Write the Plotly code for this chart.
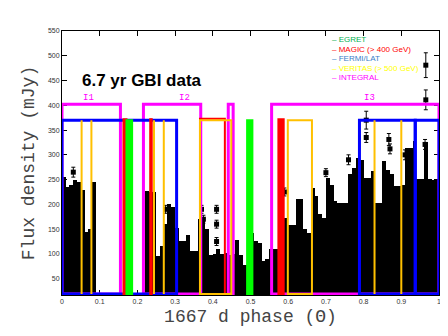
import plotly.graph_objects as go

# GBI flux envelope, phase bins of 0.01
phase_bins = [0.00, 0.01, 0.02, 0.03, 0.04, 0.05, 0.06, 0.07, 0.08, 0.09,
              0.10, 0.11, 0.12, 0.13, 0.14, 0.15, 0.16, 0.17, 0.18, 0.19,
              0.20, 0.21, 0.22, 0.23, 0.24, 0.25, 0.26, 0.27, 0.28, 0.29,
              0.30, 0.31, 0.32, 0.33, 0.34, 0.35, 0.36, 0.37, 0.38, 0.39,
              0.40, 0.41, 0.42, 0.43, 0.44, 0.45, 0.46, 0.47, 0.48, 0.49,
              0.50, 0.51, 0.52, 0.53, 0.54, 0.55, 0.56, 0.57, 0.58, 0.59,
              0.60, 0.61, 0.62, 0.63, 0.64, 0.65, 0.66, 0.67, 0.68, 0.69,
              0.70, 0.71, 0.72, 0.73, 0.74, 0.75, 0.76, 0.77, 0.78, 0.79,
              0.80, 0.81, 0.82, 0.83, 0.84, 0.85, 0.86, 0.87, 0.88, 0.89,
              0.90, 0.91, 0.92, 0.93, 0.94, 0.95, 0.96, 0.97, 0.98, 0.99]
flux_top = [255, 235, 240, 250, 245, 230, 145, 150, 245, 0,
            0, 0, 0, 0, 0, 0, 0, 0, 0, 0,
            0, 0, 227, 225, 225, 95, 115, 160, 200, 195,
            152, 126, 126, 139, 106, 106, 170, 175, 150, 98,
            100, 110, 100, 102, 98, 100, 129, 98, 78, 88,
            142, 126, 122, 85, 90, 109, 109, 109, 140, 172,
            159, 159, 210, 210, 150, 142, 233, 217, 180, 172,
            254, 240, 207, 203, 203, 203, 261, 274, 294, 290,
            254, 254, 268, 203, 203, 288, 270, 261, 237, 237,
            240, 314, 314, 328, 252, 252, 325, 252, 250, 252]

# individual points with error bars sticking out of the envelope
pt_phase = [0.03, 0.275, 0.37, 0.375, 0.41, 0.41, 0.41, 0.59, 0.70, 0.76,
            0.807, 0.807, 0.867, 0.87, 0.91, 0.963, 0.965, 0.965]
pt_flux = [265, 190, 190, 170, 190, 160, 125, 225, 264, 290,
           370, 335, 331, 312, 300, 321, 481, 411]
pt_err = [10, 8, 8, 8, 8, 8, 8, 8, 8, 10,
          18, 10, 12, 10, 10, 10, 25, 20]

# phase windows of the observatories: (start, end, top)
integral_win = [(0.0, 0.155, 402), (0.216, 0.368, 402), (0.441, 0.454, 402), (0.556, 1.0, 402)]
fermi_win = [(0.0, 0.304, 370), (0.789, 0.937, 370), (0.937, 1.0, 370)]
magic_win = [(0.163, 0.171, 372), (0.234, 0.238, 372), (0.366, 0.432, 373), (0.574, 0.588, 372)]
veritas_win = [(0.052, 0.052, 370), (0.078, 0.078, 370), (0.244, 0.244, 370), (0.27, 0.27, 370),
               (0.366, 0.449, 370), (0.599, 0.663, 370), (0.829, 0.829, 370), (0.90, 0.90, 370)]
egret_win = [(0.171, 0.186, 370), (0.491, 0.505, 370)]

legend_names = ['– EGRET', '– MAGIC (> 400 GeV)', '– FERMI/LAT', '– VERITAS (> 500 GeV)', '– INTEGRAL']
legend_colors = ['#00b050', '#ff0000', '#3c7fc8', '#ffff00', '#ff00ff']

x_ticks = [0, 0.1, 0.2, 0.3, 0.4, 0.5, 0.6, 0.7, 0.8, 0.9, 1]
y_ticks = [50, 100, 150, 200, 250, 300, 350, 400, 450, 500, 550]

BOTTOM = 19

fig = go.Figure()
fig.add_trace(go.Bar(x=[p + 0.005 for p in phase_bins], y=flux_top, width=0.0105,
                     marker=dict(color='black', line=dict(width=0)), showlegend=False))
fig.add_trace(go.Scatter(x=pt_phase, y=pt_flux, mode='markers',
                         marker=dict(symbol='square', size=5, color='black'),
                         error_y=dict(type='data', array=pt_err, color='black', thickness=1, width=2),
                         showlegend=False))

shapes = []


def add_boxes(wins, color, lw, fill=False):
    for x0, x1, top in wins:
        shapes.append(dict(type='rect', xref='x', yref='y', x0=x0, x1=x1, y0=BOTTOM, y1=top,
                           line=dict(color=color, width=lw),
                           fillcolor=color if fill else 'rgba(0,0,0,0)'))


add_boxes(integral_win, '#ff00ff', 3)
add_boxes(fermi_win, '#0000ff', 3)
add_boxes(magic_win[:1] + magic_win[3:], '#ff0000', 2, fill=True)
add_boxes(magic_win[1:3], '#ff0000', 2)
add_boxes(veritas_win, '#ffc000', 2)
add_boxes(egret_win, '#00ff00', 2, fill=True)

ann = []
for i, (name, col) in enumerate(zip(legend_names, legend_colors)):
    ann.append(dict(x=322, y=32 + i * 9.4, xref='paper', yref='paper', text=name,
                    showarrow=False, xanchor='left', yanchor='middle',
                    font=dict(family='Liberation Sans', size=8, color=col)))
# legend positions were given in pixels, turn them into paper coords
for a in ann:
    a['x'] = (a['x'] - 53.7) / (431 - 53.7)
    a['y'] = (287 - a['y']) / (287 - 23)

ann.append(dict(x=0.047, y=450, xref='x', yref='y', text='<b>6.7 yr GBI data</b>', showarrow=False,
                xanchor='left', yanchor='middle',
                font=dict(family='Liberation Sans', size=17, color='black')))
for lab, xp in [('I1', 0.07), ('I2', 0.325), ('I3', 0.815)]:
    ann.append(dict(x=xp, y=414, xref='x', yref='y', text=lab, showarrow=False,
                    font=dict(family='Liberation Mono', size=9, color='#ff00ff')))

fig.update_layout(
    width=448, height=336,
    margin=dict(l=54, r=17, t=23, b=49),
    paper_bgcolor='white', plot_bgcolor='white',
    bargap=0, shapes=shapes, annotations=ann,
    xaxis=dict(range=[0, 1], tickvals=x_ticks, ticktext=['0', '0.1', '0.2', '0.3', '0.4', '0.5', '0.6', '0.7', '0.8', '0.9', '1'],
               showgrid=False, zeroline=False, showline=True, linecolor='black', linewidth=1,
               mirror='allticks', ticks='inside', ticklen=5, tickcolor='black',
               tickfont=dict(family='Liberation Sans', size=7, color='#333'),
               title=dict(text='1667 d phase (Θ)', standoff=4,
                          font=dict(family='Liberation Mono', size=18, color='#444'))),
    yaxis=dict(range=[17, 550], tickvals=y_ticks,
               showgrid=False, zeroline=False, showline=True, linecolor='black', linewidth=1,
               mirror='allticks', ticks='inside', ticklen=5, tickcolor='black',
               tickfont=dict(family='Liberation Sans', size=7, color='#333'),
               title=dict(text='Flux density (mJy)', standoff=8,
                          font=dict(family='Liberation Mono', size=18, color='#444'))),
)

fig.write_html('out.html')
